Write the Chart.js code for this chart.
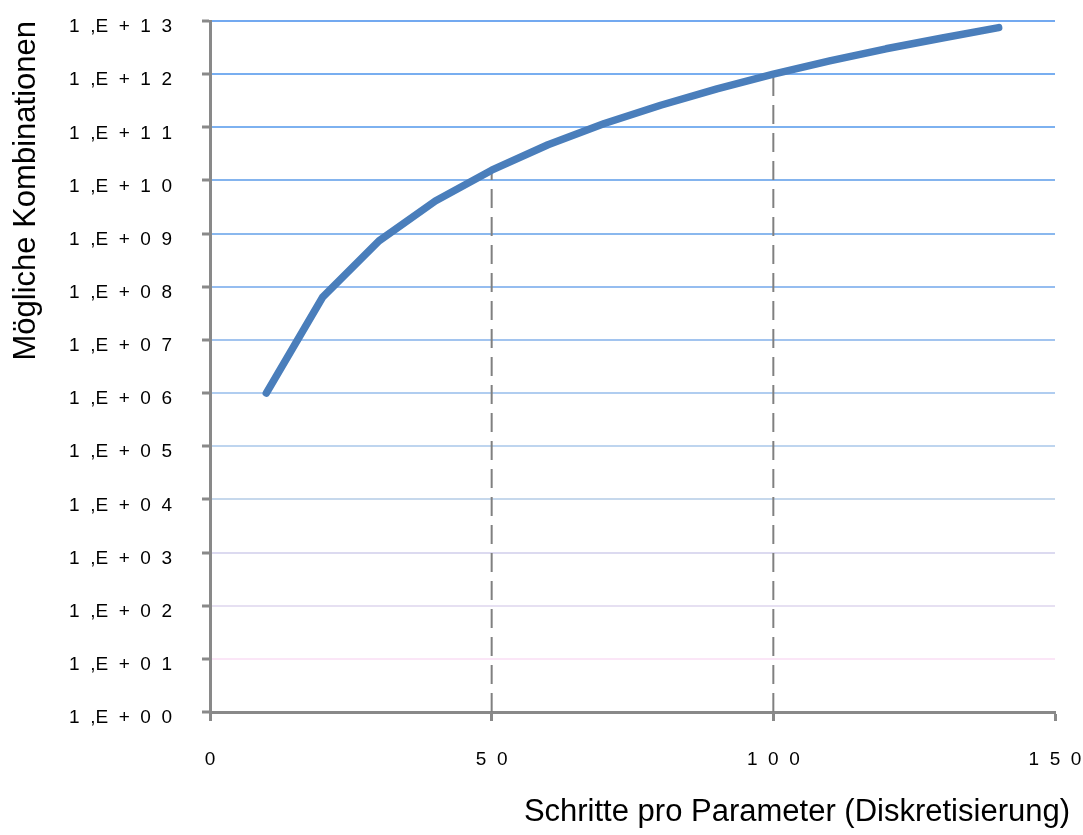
<!DOCTYPE html>
<html lang="de">
<head>
  <meta charset="UTF-8">
  <title>Mögliche Kombinationen</title>
  <script src="https://cdn.jsdelivr.net/npm/chart.js"></script>
  <style>
    html, body { margin: 0; padding: 0; background: #fff; }
    #wrap { width: 1083px; height: 835px; }
  </style>
</head>
<body>
<div id="wrap"><canvas id="chart"></canvas></div>

<script>
  // Schritte pro Parameter und die daraus möglichen Kombinationen
  const steps = [10, 20, 30, 40, 50, 60, 70, 80, 90, 100, 110, 120, 130, 140];
  const combinations = [1e6, 6.4e7, 7.3e8, 4.1e9, 1.56e10, 4.7e10, 1.18e11, 2.6e11, 5.3e11, 1e12, 1.77e12, 3.0e12, 4.8e12, 7.5e12];

  // gestrichelte Lote bei 50 und 100 Schritten
  const dropSteps = [50, 100];
  const dropValues = [1.56e10, 1e12];

  const yTickValues = [1e0, 1e1, 1e2, 1e3, 1e4, 1e5, 1e6, 1e7, 1e8, 1e9, 1e10, 1e11, 1e12, 1e13];
  const yTickLabels = ['1,E+00', '1,E+01', '1,E+02', '1,E+03', '1,E+04', '1,E+05', '1,E+06',
                       '1,E+07', '1,E+08', '1,E+09', '1,E+10', '1,E+11', '1,E+12', '1,E+13'];
  const xTickValues = [0, 50, 100, 150];

  // breit gesperrte Beschriftung wie im Original
  const spread = s => s.split('').join('  ').replace(',  E', ',E');

  // Gitterfarben von unten (blass rosa) nach oben (blau)
  const gridColors = ['rgba(0,0,0,0)', '#fbe6f7', '#e6e0f2', '#dcdaf0', '#c6d8ec', '#bed5ef', '#b0cdf0',
                      '#a2c4ef', '#95bdf0', '#8ab8ee', '#84b4ee', '#7db1f0', '#78aef0', '#73a9f0'];

  Chart.defaults.font.family = "'Liberation Sans', Arial, sans-serif";
  Chart.defaults.color = '#000';

  const axisGray = '#898989';
  const titleFontSize = 31;
  const titlePad = { top: 0, bottom: 4 };
  const titleHeight = titleFontSize * 1.2 + titlePad.top + titlePad.bottom;

  const datasets = [{
    data: steps.map((s, i) => ({ x: s, y: combinations[i] })),
    borderColor: '#4a7ebb',
    borderWidth: 7.5,
    borderCapStyle: 'round',
    borderJoinStyle: 'round',
    pointRadius: 0,
    tension: 0
  }];
  dropSteps.forEach((s, i) => {
    datasets.push({
      data: [{ x: s, y: 1 }, { x: s, y: dropValues[i] }],
      borderColor: '#808080',
      borderWidth: 2,
      borderDash: [19, 9],
      pointRadius: 0
    });
  });

  new Chart(document.getElementById('chart'), {
    type: 'line',
    data: { datasets: datasets },
    options: {
      responsive: true,
      maintainAspectRatio: false,
      animation: false,
      layout: { padding: { left: 0, right: 13, top: 21, bottom: 0 } },
      plugins: {
        legend: { display: false },
        tooltip: { enabled: false },
        title: {
          display: true,
          position: 'bottom',
          align: 'end',
          text: 'Schritte pro Parameter (Diskretisierung)',
          color: '#000',
          font: { size: titleFontSize, weight: 'normal' },
          padding: titlePad
        }
      },
      scales: {
        x: {
          type: 'linear',
          min: 0,
          max: 150,
          afterBuildTicks: scale => {
            scale.ticks = xTickValues.map(v => ({ value: v }));
          },
          ticks: {
            padding: 27,
            font: { size: 19 },
            color: '#000',
            callback: v => spread(String(v))
          },
          grid: {
            drawOnChartArea: false,
            drawTicks: true,
            tickLength: 9,
            tickWidth: 3,
            tickColor: axisGray
          },
          border: { color: axisGray, width: 3 },
          afterFit: scale => {
            scale.height = 835 - 712 - titleHeight;
            scale.paddingRight = 28;
          }
        },
        y: {
          type: 'logarithmic',
          min: 1,
          max: 1e13,
          afterBuildTicks: scale => {
            scale.ticks = yTickValues.map(v => ({ value: v }));
          },
          ticks: {
            padding: 30,
            labelOffset: 6,
            font: { size: 19 },
            color: '#000',
            autoSkip: false,
            callback: (v, i) => spread(yTickLabels[i])
          },
          grid: {
            color: ctx => gridColors[ctx.index] || 'rgba(0,0,0,0)',
            lineWidth: 2,
            drawTicks: true,
            tickLength: 8,
            tickWidth: 3,
            tickColor: axisGray
          },
          border: { color: axisGray, width: 3 },
          title: {
            display: true,
            text: 'Mögliche Kombinationen',
            align: 'end',
            color: '#000',
            font: { size: titleFontSize },
            padding: { top: 8, bottom: 0 }
          },
          afterFit: scale => {
            scale.width = 210;
            scale.paddingTop = 0;
            scale.paddingBottom = 0;
          }
        }
      }
    }
  });
</script>
</body>
</html>
